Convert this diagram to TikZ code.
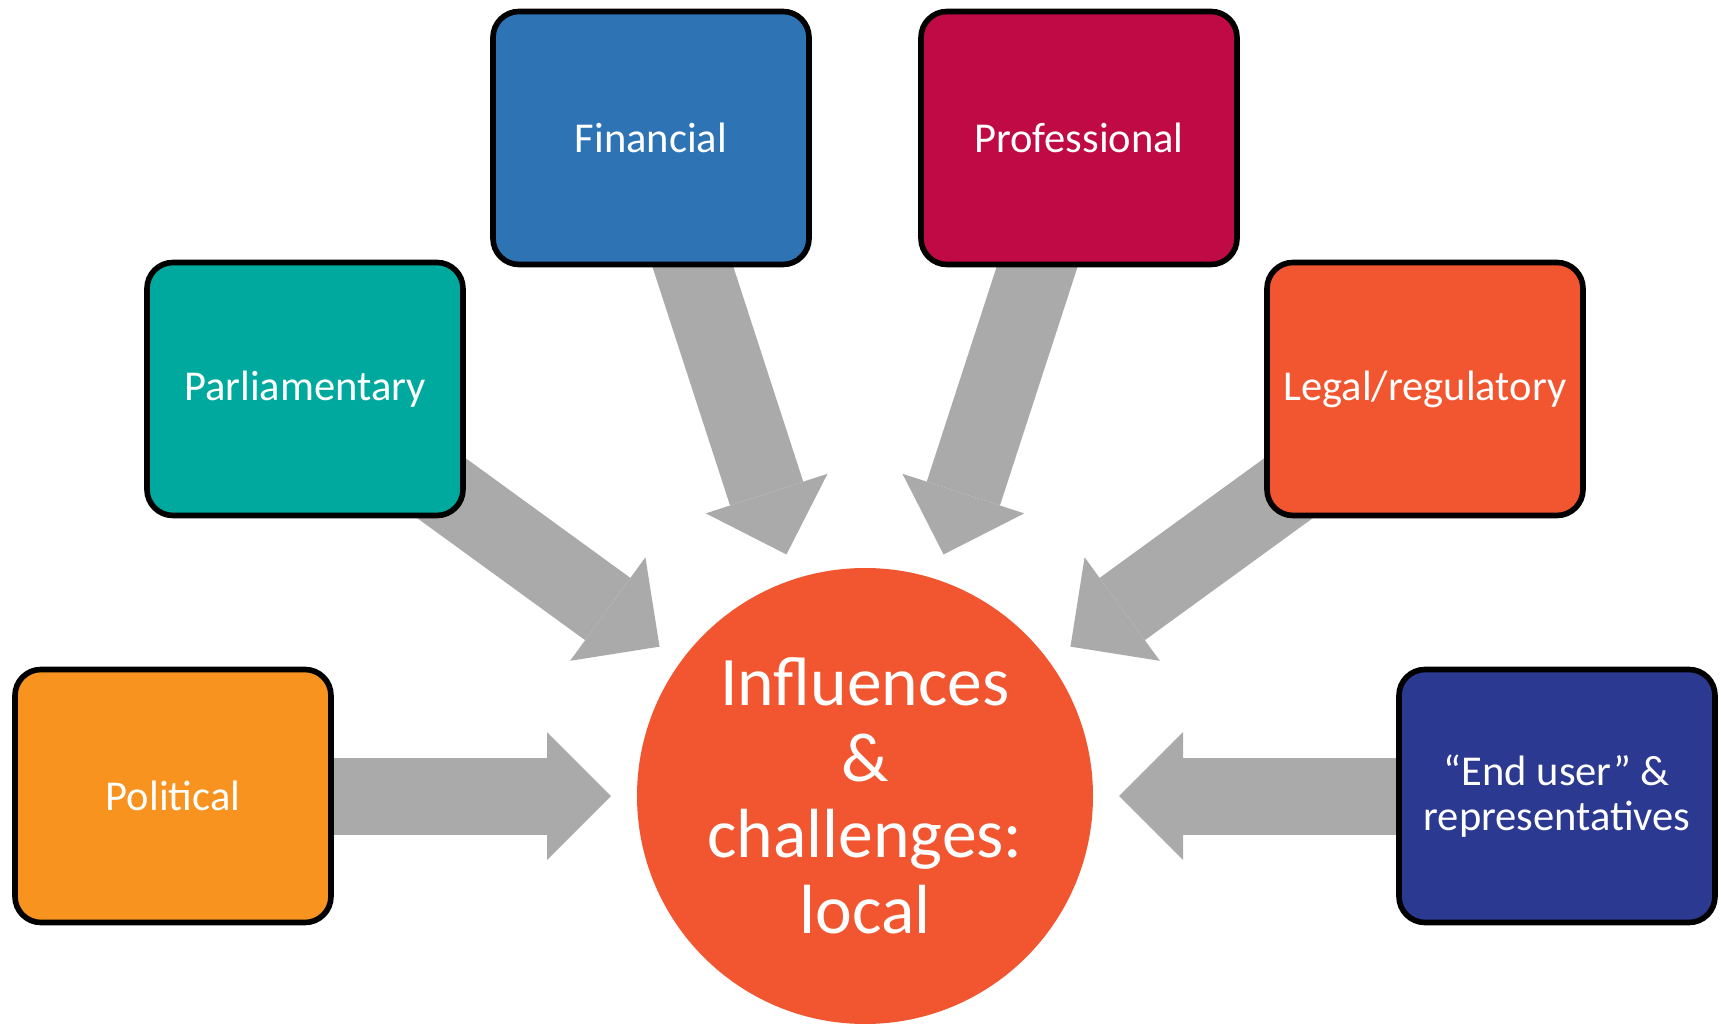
\documentclass[tikz,border=0pt]{standalone}
\usepackage{fontspec}
\setmainfont{Carlito}
\usetikzlibrary{positioning, arrows.meta, backgrounds}
\definecolor{polorange}{HTML}{F7931E}
\definecolor{parteal}{HTML}{00A99D}
\definecolor{finblue}{HTML}{2E74B5}
\definecolor{procrimson}{HTML}{BF0A46}
\definecolor{legorange}{HTML}{F15630}
\definecolor{endnavy}{HTML}{2B3990}
\definecolor{hubred}{HTML}{F15630}
\definecolor{arrowgray}{HTML}{AAAAAA}
\tikzset{
every node/.style = {text = white},
factor/.style = {rectangle, draw = black, line width = 1.6pt, rounded corners = 2.6mm,
   minimum width = 3.16cm, minimum height = 2.53cm, inner sep = 2pt, align = center,
   font = \fontsize{12.1}{13}\selectfont},
hub/.style = {circle, fill = hubred, minimum size = 4.56cm, inner sep = 0pt,
   align = center, font = \fontsize{19.8}{21.6}\selectfont},
influence/.style = {arrowgray, line width = 7.7mm,
   -{Triangle[length = 6.4mm, width = 12.8mm, line width = 0pt]}, shorten > = 2.54cm}
}

\begin{document}
\begin{tikzpicture}[on grid]
\useasboundingbox (-8.65,-2.29) rectangle (8.56,7.96);

%% Centre
\node [hub] (hub) {Influences\\\&\\challenges:\\local};

%% Factors
\node [factor, fill = polorange] (pol) [left = 6.92cm of hub] {Political};
\node [factor, fill = parteal] (par) [above left = 4.07cm and 5.60cm of hub] {Parliamentary};
\node [factor, fill = finblue] (fin) [above left = 6.58cm and 2.14cm of hub] {Financial};
\node [factor, fill = procrimson] (pro) [above right = 6.58cm and 2.14cm of hub] {Professional};
\node [factor, fill = legorange] (leg) [above right = 4.07cm and 5.60cm of hub] {Legal/regulatory};
\node [factor, fill = endnavy] (end) [right = 6.92cm of hub] {“End user” \&\\representatives};

%% Influences
\begin{scope}[on background layer]
\path [influence] (pol.center) edge (hub.center);
\path [influence] (par.center) edge (hub.center);
\path [influence] (fin.center) edge (hub.center);
\path [influence] (pro.center) edge (hub.center);
\path [influence] (leg.center) edge (hub.center);
\path [influence] (end.center) edge (hub.center);
\end{scope}

\end{tikzpicture}
\end{document}
